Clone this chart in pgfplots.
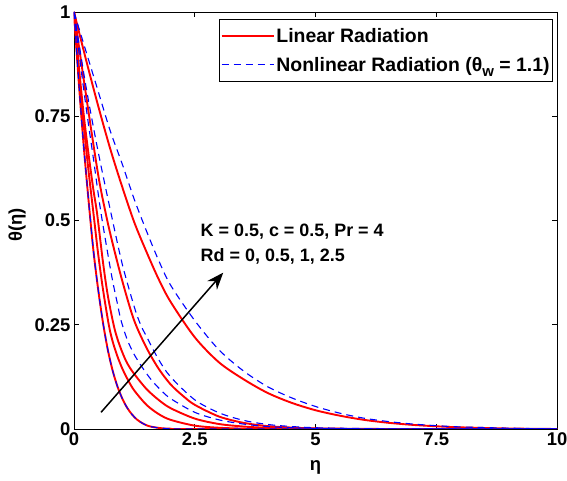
\documentclass[border=0pt]{standalone}
\usepackage{pgfplots}
\pgfplotsset{compat=1.18}
\usepackage{fontspec}
\setmainfont{Liberation Sans}
\usetikzlibrary{arrows.meta}
\definecolor{mred}{RGB}{255,0,0}
\definecolor{mblue}{RGB}{0,0,255}
\begin{document}
\begin{tikzpicture}[font=\fontsize{18.5}{22}\selectfont\bfseries]
\begin{axis}[name=ax, width=483bp, height=417bp, scale only axis,
  xmin=0, xmax=10, ymin=0, ymax=1,
  xtick={0,2.5,5,7.5,10}, ytick={0,0.25,0.5,0.75,1},
  xticklabels={0,2.5,5,7.5,10}, yticklabels={0,0.25,0.5,0.75,1},
  tick align=inside, major tick length=5bp,
  ticklabel style={font=\fontsize{18.5}{22}\selectfont\bfseries},
  axis line style={line width=0.9bp}, every tick/.style={black, line width=0.8bp},
  xlabel={η}, ylabel={θ(η)},
  xlabel style={at={(axis description cs:0.5,-0.091)}, anchor=center},
  ylabel style={at={(axis description cs:-0.118,0.49)}, anchor=center},
  legend style={at={(axis description cs:1,1)}, anchor=north east, xshift=-4bp, yshift=-7bp,
    draw=black, line width=0.9bp, inner xsep=1bp, inner ysep=7bp, row sep=9bp,
    cells={anchor=west}, font=\fontsize{19.5}{22}\selectfont\bfseries},
  legend image code/.code={\draw[#1] (0bp,0bp) -- (52bp,0bp);},
  clip=true]
% Linear radiation (red, solid)
\addplot[mred, line width=1.9bp, smooth] coordinates {(0,1) (0.1,0.83) (0.2,0.68) (0.3,0.55) (0.4,0.43) (0.5,0.335) (0.6,0.255) (0.7,0.19) (0.8,0.14) (0.9,0.102) (1.0,0.073) (1.1,0.051) (1.2,0.035) (1.3,0.023) (1.4,0.015) (1.5,0.009) (1.6,0.0055) (1.8,0.002) (2.0,0.0007) (2.5,0) (10,0)};
\addlegendentry{Linear Radiation}
\addplot[mred, line width=1.9bp, smooth, forget plot] coordinates {(0,1) (0.1,0.85) (0.2,0.73) (0.3,0.62) (0.41,0.51) (0.5,0.42) (0.6,0.335) (0.72,0.25) (0.8,0.21) (0.9,0.174) (1.0,0.145) (1.12,0.117) (1.25,0.092) (1.5,0.058) (1.75,0.036) (2.0,0.022) (2.5,0.008) (3.0,0.003) (3.5,0.001) (4.0,0) (10,0)};
\addplot[mred, line width=1.9bp, smooth, forget plot] coordinates {(0,1) (0.1,0.87) (0.2,0.755) (0.3,0.66) (0.4,0.575) (0.48,0.515) (0.6,0.40) (0.7,0.32) (0.82,0.25) (0.9,0.216) (1.0,0.184) (1.1,0.158) (1.24,0.133) (1.5,0.096) (1.75,0.07) (2.0,0.05) (2.5,0.025) (3.0,0.012) (3.5,0.006) (4.0,0.003) (5.0,0.0007) (6.0,0) (10,0)};
\addplot[mred, line width=1.9bp, smooth, forget plot] coordinates {(0,1) (0.25,0.80) (0.5,0.61) (0.67,0.51) (0.8,0.445) (1.0,0.355) (1.24,0.262) (1.5,0.195) (1.75,0.145) (2.0,0.107) (2.25,0.08) (2.5,0.058) (3.0,0.03) (3.5,0.015) (4.0,0.007) (4.5,0.0035) (5.0,0.0015) (6.0,0.0003) (7.0,0) (10,0)};
\addplot[mred, line width=1.9bp, smooth, forget plot] coordinates {(0,1) (0.25,0.885) (0.5,0.775) (0.75,0.672) (1.0,0.58) (1.25,0.495) (1.5,0.425) (1.75,0.36) (2.0,0.305) (2.5,0.22) (3.0,0.16) (3.5,0.12) (4.0,0.087) (4.5,0.063) (5.0,0.045) (5.5,0.032) (6.0,0.022) (6.5,0.015) (7.0,0.01) (7.5,0.0065) (8.0,0.004) (9.0,0.0012) (10,0)};
% Nonlinear radiation (blue, dashed)
\addplot[mblue, line width=1.1bp, dash pattern=on 7bp off 5bp, smooth] coordinates {(0,1) (0.1,0.83) (0.2,0.68) (0.3,0.55) (0.4,0.43) (0.5,0.335) (0.6,0.255) (0.7,0.19) (0.8,0.14) (0.9,0.102) (1.0,0.073) (1.1,0.051) (1.2,0.035) (1.3,0.023) (1.4,0.015) (1.5,0.009) (1.6,0.0055) (1.8,0.002) (2.0,0.0007) (2.5,0) (10,0)};
\addlegendentry{Nonlinear Radiation (θ\raisebox{-5bp}{\fontsize{15}{15}\selectfont w} = 1.1)}
\addplot[mblue, line width=1.1bp, dash pattern=on 7bp off 5bp, smooth, forget plot] coordinates {(0,1) (0.1,0.905) (0.2,0.815) (0.3,0.73) (0.4,0.65) (0.5,0.565) (0.57,0.51) (0.7,0.42) (0.8,0.355) (0.9,0.3) (0.97,0.262) (1.1,0.215) (1.25,0.178) (1.43,0.145) (1.6,0.118) (1.8,0.093) (2.0,0.073) (2.5,0.04) (3.0,0.022) (3.5,0.012) (4.0,0.006) (4.5,0.003) (5.0,0.0015) (6.0,0.0003) (7.0,0) (10,0)};
\addplot[mblue, line width=1.1bp, dash pattern=on 7bp off 5bp, smooth, forget plot] coordinates {(0,1) (0.25,0.82) (0.5,0.665) (0.78,0.51) (1.0,0.395) (1.25,0.292) (1.38,0.25) (1.5,0.222) (1.75,0.167) (2.0,0.125) (2.5,0.07) (3.0,0.039) (3.5,0.021) (4.0,0.011) (4.5,0.006) (5.0,0.003) (6.0,0.001) (7.0,0) (10,0)};
\addplot[mblue, line width=1.1bp, dash pattern=on 7bp off 5bp, smooth, forget plot] coordinates {(0,1) (0.25,0.905) (0.5,0.81) (0.75,0.715) (1.0,0.635) (1.25,0.55) (1.5,0.475) (1.75,0.405) (2.0,0.345) (2.5,0.26) (3.0,0.19) (3.5,0.14) (4.0,0.102) (4.5,0.075) (5.0,0.054) (5.5,0.038) (6.0,0.026) (6.5,0.018) (7.0,0.012) (7.5,0.008) (8.0,0.005) (9.0,0.002) (10,0)};
\node[anchor=base west, inner sep=0, font=\fontsize{18}{21}\selectfont\bfseries] at (axis cs:2.62,0.461) {K = 0.5, c = 0.5, Pr = 4};
\node[anchor=base west, inner sep=0, font=\fontsize{18}{21}\selectfont\bfseries] at (axis cs:2.62,0.401) {Rd = 0, 0.5, 1, 2.5};
\draw[black, line width=1.5bp, -{Stealth[length=17bp,width=13bp]}] (axis cs:0.56,0.04) -- (axis cs:3.09,0.375);
\end{axis}
\pgfresetboundingbox
\path ([shift={(-74bp,-52bp)}]ax.south west) rectangle ([shift={(10bp,12bp)}]ax.north east);
\end{tikzpicture}
\end{document}
